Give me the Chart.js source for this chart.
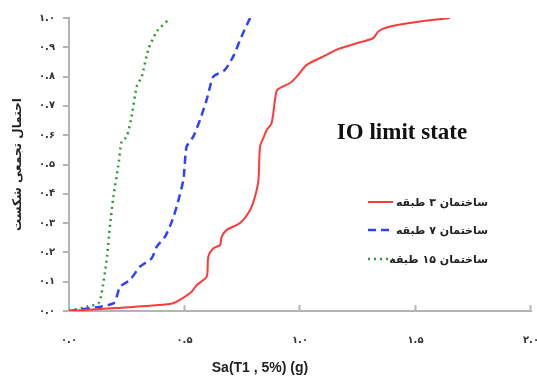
<!DOCTYPE html>
<html>
<head>
<meta charset="utf-8">
<script src="https://cdn.jsdelivr.net/npm/chart.js@4.4.1/dist/chart.umd.min.js"></script>
<style>
    body { margin: 0; background: #fff; }
    #wrap { width: 537px; height: 378px; }
</style>
</head>
<body>
<div id="wrap"><canvas id="fragilityChart"></canvas></div>
<script>
// fragility curves, IO limit state
const story3X = [0.00, 0.20, 0.437, 0.466, 0.531, 0.553, 0.596, 0.603, 0.625, 0.654, 0.661, 0.683, 0.740, 0.784, 0.805, 0.820, 0.827, 0.841, 0.856, 0.877, 0.892, 0.902, 0.957, 0.986, 1.029, 1.115, 1.159, 1.260, 1.317, 1.339, 1.390, 1.519, 1.649];
const story3Y = [0.000, 0.010, 0.024, 0.032, 0.066, 0.089, 0.117, 0.186, 0.214, 0.225, 0.254, 0.277, 0.300, 0.345, 0.390, 0.447, 0.561, 0.590, 0.618, 0.641, 0.721, 0.755, 0.778, 0.800, 0.840, 0.874, 0.892, 0.917, 0.931, 0.954, 0.971, 0.988, 1.000];

const story7X = [0.00, 0.192, 0.221, 0.264, 0.307, 0.358, 0.380, 0.416, 0.445, 0.466, 0.495, 0.509, 0.538, 0.567, 0.596, 0.625, 0.675, 0.711, 0.747, 0.784];
const story7Y = [0.000, 0.026, 0.083, 0.106, 0.151, 0.180, 0.220, 0.254, 0.305, 0.356, 0.447, 0.561, 0.595, 0.652, 0.721, 0.800, 0.823, 0.869, 0.937, 1.000];

const story15X = [0.00, 0.077, 0.127, 0.141, 0.163, 0.177, 0.192, 0.213, 0.228, 0.250, 0.271, 0.293, 0.315, 0.343, 0.380, 0.430, 0.437];
const story15Y = [0.000, 0.015, 0.026, 0.060, 0.174, 0.288, 0.390, 0.493, 0.578, 0.595, 0.664, 0.766, 0.800, 0.892, 0.954, 0.994, 1.000];

const seriesLabels = ['ساختمان ۳ طبقه', 'ساختمان ۷ طبقه', 'ساختمان ۱۵ طبقه'];
const chartTitle = 'IO limit state';
const xTitle = 'Sa(T1 , 5%) (g)';
const yTitle = 'احتمال تجمعی شکست';
const xTicks = [0, 0.5, 1.0, 1.5, 2.0];

const axisColor = '#b4b4b4';
const persianDigits = '۰۱۲۳۴۵۶۷۸۹';

function toPersian(v) {
    return v.toFixed(1).replace(/\d/g, d => persianDigits[d]);
}

function toPoints(xs, ys) {
    return xs.map((x, i) => ({ x: x, y: ys[i] }));
}

const extrasPlugin = {
    id: 'extras',
    afterDraw(chart) {
        const ctx = chart.ctx;
        const xs = chart.scales.x;
        const area = chart.chartArea;
        ctx.save();

        // short inward ticks on the x axis
        ctx.strokeStyle = axisColor;
        ctx.lineWidth = 2;
        xTicks.slice(1).forEach(v => {
            const px = Math.round(xs.getPixelForValue(v)) - 0.5;
            ctx.beginPath();
            ctx.moveTo(px, area.bottom);
            ctx.lineTo(px, area.bottom - 6);
            ctx.stroke();
        });

        // title inside plot
        ctx.fillStyle = '#111';
        ctx.font = 'bold 23px "Liberation Serif"';
        ctx.textAlign = 'center';
        ctx.textBaseline = 'middle';
        ctx.fillText(chartTitle, 402, 133);

        // x axis title
        ctx.font = 'bold 14px "Liberation Sans"';
        ctx.fillStyle = '#222';
        ctx.fillText(xTitle, 260, 368);

        // legend
        const rowY = [202, 230, 259];
        ctx.font = 'bold 11px "DejaVu Sans"';
        ctx.textAlign = 'right';
        ctx.direction = 'rtl';
        chart.data.datasets.forEach((ds, i) => {
            ctx.strokeStyle = ds.borderColor;
            ctx.lineWidth = ds.borderWidth;
            ctx.setLineDash(ds.borderDash || []);
            ctx.beginPath();
            ctx.moveTo(368, rowY[i]);
            ctx.lineTo(393, rowY[i]);
            ctx.stroke();
            ctx.setLineDash([]);
            ctx.fillStyle = '#222';
            ctx.fillText(ds.label, 488, rowY[i] + 1);
        });
        ctx.restore();
    }
};

new Chart(document.getElementById('fragilityChart'), {
    type: 'scatter',
    data: {
        datasets: [
            {
                label: seriesLabels[0],
                data: toPoints(story3X, story3Y),
                showLine: true,
                borderColor: '#ff3a3a',
                borderWidth: 2,
                pointRadius: 0,
                tension: 0.25
            },
            {
                label: seriesLabels[1],
                data: toPoints(story7X, story7Y),
                showLine: true,
                borderColor: '#3040ff',
                borderWidth: 2.5,
                borderDash: [8, 5],
                pointRadius: 0,
                tension: 0.2
            },
            {
                label: seriesLabels[2],
                data: toPoints(story15X, story15Y),
                showLine: true,
                borderColor: '#2f9a35',
                borderWidth: 2.5,
                borderDash: [2, 4],
                pointRadius: 0,
                tension: 0.2
            }
        ]
    },
    options: {
        responsive: true,
        maintainAspectRatio: false,
        animation: false,
        layout: { padding: { top: 18, right: 6 } },
        plugins: {
            legend: { display: false },
            tooltip: { enabled: false }
        },
        scales: {
            x: {
                type: 'linear',
                min: 0,
                max: 2,
                afterBuildTicks: s => { s.ticks = xTicks.map(v => ({ value: v })); },
                afterFit: s => {
                    s.height = 67;
                    s.paddingLeft = 0;
                    s.paddingRight = 0;
                },
                ticks: {
                    callback: v => toPersian(v),
                    padding: 23,
                    maxRotation: 0,
                    color: '#333',
                    font: { family: 'DejaVu Sans', size: 10, weight: 'bold' }
                },
                grid: { drawOnChartArea: false, drawTicks: false },
                border: { color: axisColor, width: 2 }
            },
            y: {
                min: 0,
                max: 1,
                afterFit: s => {
                    s.width = 69;
                    s.paddingTop = 0;
                    s.paddingBottom = 0;
                },
                ticks: {
                    stepSize: 0.1,
                    callback: v => toPersian(v),
                    padding: 8,
                    color: '#333',
                    font: { family: 'DejaVu Sans', size: 10, weight: 'bold' }
                },
                grid: {
                    drawOnChartArea: false,
                    drawTicks: true,
                    tickLength: 6,
                    color: axisColor,
                    lineWidth: 2
                },
                border: { color: axisColor, width: 2 },
                title: {
                    display: true,
                    text: yTitle,
                    color: '#222',
                    font: { family: 'DejaVu Sans', size: 12, weight: 'bold' },
                    padding: { top: 11, bottom: 0 }
                }
            }
        }
    },
    plugins: [extrasPlugin]
});
</script>
</body>
</html>
